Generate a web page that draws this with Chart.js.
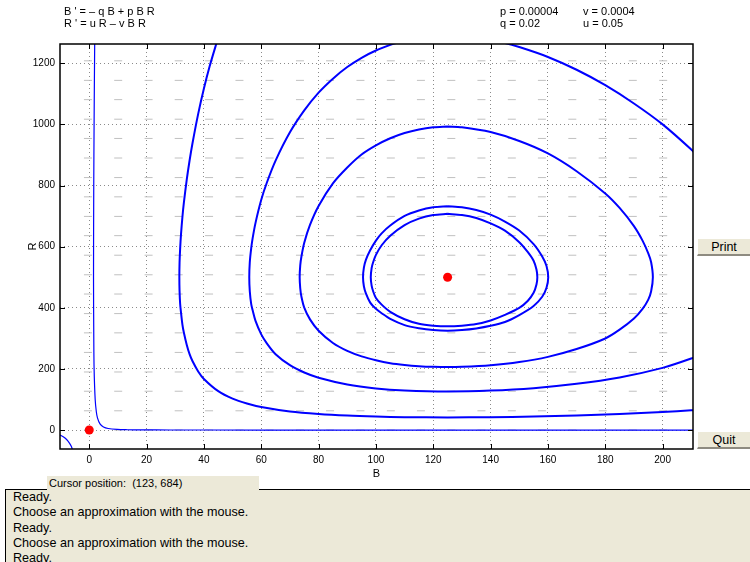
<!DOCTYPE html>
<html>
<head>
<meta charset="utf-8">
<script src="https://cdn.jsdelivr.net/npm/chart.js@4.4.1/dist/chart.umd.min.js"></script>
<style>
  body { margin: 0; background: #fff; font-family: "Liberation Sans", Arial, Helvetica, sans-serif; }
  #wrap { position: relative; width: 750px; height: 562px; overflow: hidden; }
  #plot { position: absolute; left: 0; top: 0; }
  .hdr { position: absolute; font-size: 11px; line-height: 12px; color: #000; white-space: pre; }
  .btn { position: absolute; left: 697px; width: 53px; height: 18px; box-sizing: border-box;
         background: #ece9d8; border-top: 1px solid #fff; border-left: 1px solid #fff;
         border-bottom: 2px solid #8e8b80; font-size: 12.5px; line-height: 16px; text-align: center; color: #000; }
  #status { position: absolute; left: 5px; top: 489px; width: 745px; height: 73px; box-sizing: border-box;
            background: #ece9d8; border-top: 1px solid #000; border-left: 1px solid #000;
            padding-left: 7px; font-size: 12.6px; line-height: 15.3px; color: #000; }
  #status div { white-space: nowrap; }
  #cursor { position: absolute; left: 47px; top: 476px; width: 212px; height: 14px; background: #ece9d8;
            font-size: 11px; line-height: 14px; padding-left: 2px; box-sizing: border-box; color: #000; white-space: pre; }
</style>
</head>
<body>
<div id="wrap">
  <canvas id="plot" width="750" height="562"></canvas>
  <div class="hdr" style="left:64px;top:5px">B ' = – q B + p B R</div>
  <div class="hdr" style="left:64px;top:17px">R ' = u R – v B R</div>
  <div class="hdr" style="left:500px;top:5px">p = 0.00004</div>
  <div class="hdr" style="left:500px;top:17px">q = 0.02</div>
  <div class="hdr" style="left:583px;top:5px">v = 0.0004</div>
  <div class="hdr" style="left:583px;top:17px">u = 0.05</div>
  <div class="btn" style="top:238px">Print</div>
  <div class="btn" style="top:431px">Quit</div>
  <div id="status">
    <div>Ready.</div>
    <div>Choose an approximation with the mouse.</div>
    <div>Ready.</div>
    <div>Choose an approximation with the mouse.</div>
    <div>Ready.</div>
  </div>
  <div id="cursor">Cursor position:  (123, 684)</div>
</div>
<script>
// axis ticks
var xTicks = [0, 20, 40, 60, 80, 100, 120, 140, 160, 180, 200];
var yTicks = [0, 200, 400, 600, 800, 1000, 1200];

// equilibrium points
var equilibria = [[0, 0], [125, 500]];

// solution curves, [B, R]
var orbit1 = [[125,707.3],[130,703.6],[135,693.7],[140,675.9],[145,652.2],[150,614.7],[153,582],[155,554],[156,525],[156.3,500],
  [156,476],[155,449],[153,423],[150,399.5],[145,376.7],[140,358.4],[135,346.7],[130,341.6],[125,339.5],[120,341.6],
  [115,347.6],[110,362.5],[105,386.8],[102,410.3],[100,432],[99,455],[98.5,472.4],[98.2,500],[98.5,529.5],[99,548],
  [100,573],[102,604.6],[105,636],[110,670.6],[115,691.8],[120,703.6],[125,707.3]];

var orbit2 = [[125,732],[130,728.6],[135,719.8],[140,704.8],[145,682.1],[150,652.7],[155,608.4],[158,568],[159.5,537],[160.1,500],
  [159.5,465.5],[158,436],[155,406],[150,376.3],[145,353.6],[140,340.9],[135,332.4],[130,327.3],[125,325.2],[120,327.3],
  [115,333.3],[110,343.4],[105,363.7],[102,382.3],[100,396.5],[98,417],[96.5,447],[95.8,470.5],[95.5,500],[95.8,531.5],
  [96.5,557],[98,588],[100,619.7],[102,643.5],[105,669],[110,700.4],[115,718.1],[120,728.6],[125,732]];

var orbit3 = [[125,992.8],[130,990.4],[140,974.8],[150,945.7],[160,905],[170,846.8],[180,774],[185,726.6],[190,667.2],[193,619.7],
  [195,578],[196,549],[196.6,500],[196,454],[195,426.7],[193,396.5],[190,365],[185,328.4],[180,299.6],[170,265],
  [160,239.4],[150,222.4],[140,212],[130,206.7],[125,205.9],[120,206.7],[115,209],[110,213],[105,218.9],[100,228.4],
  [95,240.9],[90,258.9],[85,284.8],[80,324.7],[77,362],[75,400.6],[74,437],[73.6,463.8],[73.4,500],[73.6,538.6],
  [74,567],[75,612.8],[77,671],[80,733],[85,807],[90,859],[95,901.6],[100,931.5],[105,954.7],[110,971.9],
  [115,983.5],[120,990.4],[125,992.8]];

var orbit4 = [[215,870],[210,917.5],[200,1000],[190,1068.4],[180,1128.3],[170,1178.7],[160,1220.6],[150,1253],[145,1265.8],
  [135,1283.4],[125,1290],[115,1282.6],[107,1266],[105,1260.2],[100,1241.7],[95,1217.9],[90,1187.6],[85,1149.7],
  [80,1103.9],[75,1045.7],[70,974],[65,881.5],[62,810.6],[60,753.2],[58,677.8],[57,627.8],[56.5,595],[56,549],
  [55.82,500],[56,454],[56.5,412],[57,391.6],[58,356.9],[60,313],[62,283],[65,248.3],[70,212.3],[75,188.2],
  [80,171.2],[90,149.1],[100,136.3],[110,129.6],[125,126.1],[140,129.1],[155,137.1],[170,151.2],[185,172.2],
  [200,203.5],[210,234.2],[215,253.4]];

var orbit5 = [[45.5,1299],[44.3,1263],[42,1190],[40,1117.4],[38,1034.5],[36,937.6],[35,881.8],[34,818.2],[33,743.1],
  [32.5,697.1],[32,639.3],[31.7,592],[31.5,547],[31.43,500],[31.5,456],[31.7,414],[32,384.8],[32.5,345.1],[33,319],
  [34,279.2],[35,248.2],[36,225.8],[38,191.8],[40,167.2],[45,127.2],[50,102.9],[55,87.1],[60,75.4],[70,60.7],
  [80,52.4],[90,47.2],[100,44.1],[110,42.2],[125,41.3],[140,42.1],[155,44.3],[170,47.7],[185,52.6],[200,59.1],
  [210,64.7],[215,67.8]];

var orbit6 = [[1.95,1300],[1.903,1263],[1.803,1150],[1.69,1000],[1.573,800],[1.492,500],[1.585,300],[1.697,200],
  [2.073,100],[2.47,60],[2.868,40],[3.75,20],[4.96,10],[6.6,5],[9.75,2],[13.2,1],[18.05,0.5],[28.4,0.2],
  [41.6,0.1],[80,0.03],[215,0.01]];

var orbit7 = [[-11.5,-12],[-10.23,-16.4],[-9.07,-22],[-7.9,-31],[-6.97,-42],[-6.27,-53],[-5.93,-62.2],[-5.7,-75]];

// direction field grid
var fieldB = [-0.45, 10.1, 20.7, 31.2, 41.8, 52.4, 62.9, 73.5, 84.0, 94.6, 105.2, 115.7, 126.3, 136.8, 147.4, 157.9, 168.5, 179.1, 189.6, 200.2];
var fieldR = [1208, 1144, 1081, 1017, 954, 890, 826, 763, 699, 636, 572, 508, 445, 381, 318, 254, 190, 127, 63, 0];

function pts(a) { return a.map(function (p) { return {x: p[0], y: p[1]}; }); }

var field = [];
fieldB.forEach(function (b) { fieldR.forEach(function (r) { field.push({x: b, y: r}); }); });

function orbit(a, w) {
  return {data: pts(a), showLine: true, borderColor: '#0000ff', borderWidth: w, pointRadius: 0,
          tension: 0.3, fill: false, order: 2};
}

var axisBox = {
  id: 'axisBox',
  afterDraw: function (chart) {
    var c = chart.ctx, a = chart.chartArea, xs = chart.scales.x, ys = chart.scales.y;
    c.save();
    c.strokeStyle = '#000';
    c.lineWidth = 1;
    c.beginPath();
    xTicks.forEach(function (v) {
      var px = Math.round(xs.getPixelForValue(v)) + 0.5;
      c.moveTo(px, a.bottom); c.lineTo(px, a.bottom - 5);
      c.moveTo(px, a.top); c.lineTo(px, a.top + 5);
    });
    yTicks.forEach(function (v) {
      var py = Math.round(ys.getPixelForValue(v)) + 0.5;
      c.moveTo(a.left, py); c.lineTo(a.left + 5, py);
      c.moveTo(a.right, py); c.lineTo(a.right - 5, py);
    });
    c.stroke();
    c.lineWidth = 1.5;
    c.strokeRect(a.left, a.top, a.right - a.left, a.bottom - a.top);
    c.restore();
  }
};

var font = {family: '"Liberation Sans", Arial, Helvetica, sans-serif', size: 10};
function plain(v) { return String(v); }

new Chart(document.getElementById('plot'), {
  type: 'scatter',
  data: {
    datasets: [
      {data: pts(equilibria), pointRadius: 4.5, pointBackgroundColor: '#ff0000', pointBorderWidth: 0, order: 1},
      orbit(orbit1, 2), orbit(orbit2, 2), orbit(orbit3, 2), orbit(orbit4, 2), orbit(orbit5, 2),
      orbit(orbit6, 1.2), orbit(orbit7, 1.2),
      {data: field, pointStyle: 'line', pointRadius: 4, pointBorderColor: '#c0c0c0', pointBorderWidth: 1, order: 3}
    ]
  },
  options: {
    responsive: false,
    animation: false,
    events: [],
    layout: {padding: {left: 0, right: 57, top: 44, bottom: 81}},
    plugins: {legend: {display: false}, tooltip: {enabled: false}},
    scales: {
      x: {
        type: 'linear', min: -10.2, max: 210.6,
        afterBuildTicks: function (s) { s.ticks = xTicks.map(function (v) { return {value: v}; }); },
        afterFit: function (s) { s.height = 32; },
        grid: {color: '#8a8a8a', drawTicks: false},
        border: {display: false, dash: [1, 3]},
        ticks: {color: '#000', font: font, padding: 5, maxRotation: 0, autoSkip: false, callback: plain},
        title: {display: true, text: 'B', color: '#000', font: {family: font.family, size: 11}, padding: {top: 0, bottom: 0}}
      },
      y: {
        type: 'linear', min: -62, max: 1263,
        afterBuildTicks: function (s) { s.ticks = yTicks.map(function (v) { return {value: v}; }); },
        afterFit: function (s) { s.width = 60; },
        grid: {color: '#8a8a8a', drawTicks: false},
        border: {display: false, dash: [1, 3]},
        ticks: {color: '#000', font: font, padding: 5, autoSkip: false, callback: plain},
        title: {display: true, text: 'R', color: '#000', font: {family: font.family, size: 11}, padding: {top: 26.4, bottom: 0}}
      }
    }
  },
  plugins: [axisBox]
});
</script>
</body>
</html>
